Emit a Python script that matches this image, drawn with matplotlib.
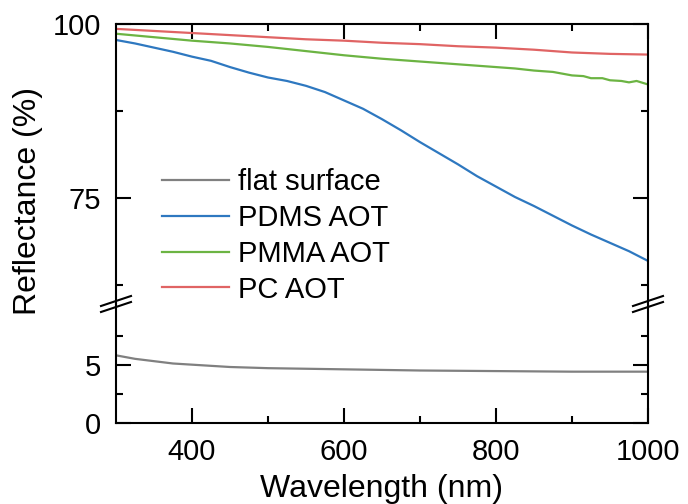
import matplotlib
matplotlib.use('Agg')
import matplotlib.pyplot as plt
from matplotlib.lines import Line2D

plt.rcParams['font.family'] = ['Liberation Sans', 'DejaVu Sans']

# data
wl_flat = [300, 325, 350, 375, 400, 450, 500, 600, 700, 800, 900, 1000]
r_flat = [5.8, 5.5, 5.3, 5.1, 5.0, 4.8, 4.7, 4.6, 4.5, 4.45, 4.4, 4.4]

wl_pdms = [300, 325, 350, 375, 400, 425, 450, 475, 500, 525, 550, 575, 600,
           625, 650, 675, 700, 725, 750, 775, 800, 825, 850, 875, 900, 925,
           950, 975, 1000]
r_pdms = [97.7, 97.2, 96.6, 96.0, 95.3, 94.7, 93.8, 93.0, 92.3, 91.8, 91.1,
          90.2, 89.0, 87.8, 86.3, 84.7, 83.0, 81.4, 79.8, 78.1, 76.6, 75.1,
          73.8, 72.4, 71.0, 69.7, 68.5, 67.3, 65.9]

wl_pmma = [300, 350, 400, 450, 500, 550, 600, 650, 700, 750, 775, 800, 825,
           850, 875, 900, 915, 925, 940, 950, 965, 975, 985, 1000]
r_pmma = [98.6, 98.1, 97.6, 97.2, 96.7, 96.1, 95.5, 95.0, 94.6, 94.2, 94.0,
          93.8, 93.6, 93.3, 93.1, 92.6, 92.5, 92.2, 92.2, 91.9, 91.8, 91.6,
          91.8, 91.3]

wl_pc = [300, 350, 400, 450, 500, 550, 600, 650, 700, 750, 800, 850, 900,
         950, 1000]
r_pc = [99.3, 99.0, 98.7, 98.4, 98.1, 97.8, 97.6, 97.3, 97.1, 96.8, 96.6,
        96.3, 95.9, 95.7, 95.6]

labels = ['flat surface', 'PDMS AOT', 'PMMA AOT', 'PC AOT']
colors = ['#808080', '#2E78C0', '#6CB443', '#E06464']

W, H = 688, 504
fig = plt.figure(figsize=(W / 100, H / 100), dpi=100)

L, R = 116, 648
top_y0, top_y1, bot_y1 = 24, 304, 423
ax_t = fig.add_axes([L / W, 1 - top_y1 / H, (R - L) / W, (top_y1 - top_y0) / H])
ax_b = fig.add_axes([L / W, 1 - bot_y1 / H, (R - L) / W, (bot_y1 - top_y1) / H])

lw = 1.6
l0, = ax_b.plot(wl_flat, r_flat, color=colors[0], lw=lw, label=labels[0])
l1, = ax_t.plot(wl_pdms, r_pdms, color=colors[1], lw=lw, label=labels[1])
l2, = ax_t.plot(wl_pmma, r_pmma, color=colors[2], lw=lw, label=labels[2])
l3, = ax_t.plot(wl_pc, r_pc, color=colors[3], lw=lw, label=labels[3])

ax_t.set_ylim(59.7, 100)
ax_b.set_ylim(0, 10.2)
for ax in (ax_t, ax_b):
    ax.set_xlim(300, 1000)
    ax.set_xticks([400, 600, 800, 1000])
    ax.set_xticks([500, 700, 900], minor=True)
    for s in ax.spines.values():
        s.set_linewidth(1.5)
    ax.tick_params(which='both', direction='in', width=1.5, left=True,
                   right=True, labelsize=21, pad=11)
    ax.tick_params(which='major', length=10.5)
    ax.tick_params(which='minor', length=5)

ax_t.set_yticks([75, 100])
ax_t.set_yticks([62.5, 87.5], minor=True)
ax_t.spines['bottom'].set_visible(False)
ax_t.tick_params(which='both', bottom=False, top=True, labelbottom=False)

ax_b.set_yticks([0, 5])
ax_b.set_yticks([2.5, 7.5], minor=True)
ax_b.spines['top'].set_visible(False)
ax_b.tick_params(which='both', bottom=True, top=False)

# break marks
for xs in (L, R):
    for dy in (-3, 3):
        yc = top_y1 + dy
        fig.add_artist(Line2D([(xs - 15) / W, (xs + 15) / W],
                              [1 - (yc + 5) / H, 1 - (yc - 5) / H],
                              color='black', lw=1.5,
                              transform=fig.transFigure))

fig.text(28 / W, 1 - 201 / H, 'Reflectance (%)', rotation=90,
         ha='center', va='center', fontsize=23)
fig.text((L + R) / 2 / W, 1 - 489 / H, 'Wavelength (nm)',
         ha='center', va='center', fontsize=23)

fig.legend(handles=[l0, l1, l2, l3], loc='upper left',
           bbox_to_anchor=(162 / W, 1 - 168 / H), frameon=False,
           fontsize=21, borderpad=0, borderaxespad=0, handlelength=2.3,
           handletextpad=0.3, labelspacing=0.27)

fig.savefig('out.png', dpi=100)
